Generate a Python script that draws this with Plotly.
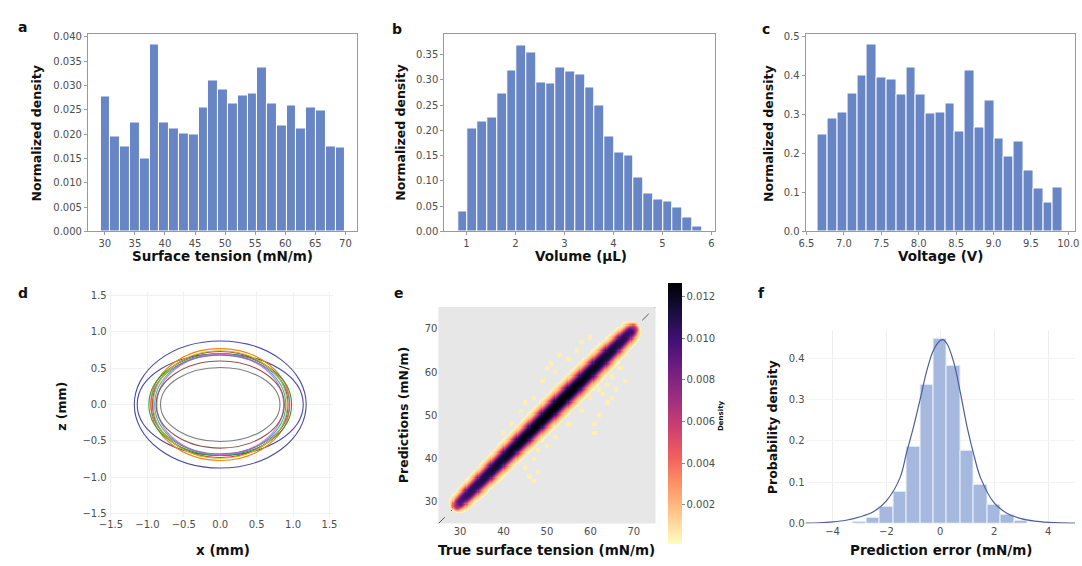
import numpy as np
import plotly.graph_objects as go

# ---------------- data ----------------
# (a) surface tension histogram
tension_edges = np.linspace(29.3, 70.0, 26)
tension_density = [0.0278, 0.0196, 0.0175, 0.0223, 0.0150, 0.0385, 0.0224, 0.0211,
                   0.0201, 0.0200, 0.0255, 0.0311, 0.0291, 0.0263, 0.0280, 0.0284,
                   0.0338, 0.0263, 0.0217, 0.0258, 0.0211, 0.0254, 0.0248, 0.0175,
                   0.0172]

# (b) volume histogram
volume_edges = np.linspace(0.83, 5.81, 26)
volume_density = [0.039, 0.203, 0.218, 0.225, 0.274, 0.318, 0.368, 0.355, 0.295,
                  0.293, 0.324, 0.317, 0.311, 0.284, 0.249, 0.187, 0.156, 0.150,
                  0.106, 0.074, 0.064, 0.059, 0.048, 0.027, 0.009]

# (c) voltage histogram
voltage_edges = np.linspace(6.654, 9.925, 26)
voltage_density = [0.249, 0.289, 0.305, 0.354, 0.400, 0.481, 0.396, 0.390, 0.351,
                   0.420, 0.351, 0.302, 0.305, 0.328, 0.257, 0.413, 0.268, 0.337,
                   0.239, 0.193, 0.232, 0.156, 0.109, 0.0745, 0.1125]

# (d) drop contours: semi-axes (mm) and line colours
contour_a = [1.18, 1.14, 0.955, 0.93, 0.98, 0.90, 0.87, 0.95, 0.92, 0.88, 0.82]
contour_b = [0.875, 0.70, 0.77, 0.73, 0.70, 0.69, 0.69, 0.68, 0.74, 0.60, 0.51]
contour_colors = ["#4b4ba6", "#4b4ba6", "#ff7f0e", "#d62728", "#2ca02c", "#17becf",
                  "#e377c2", "#9467bd", "#bcbd22", "#8c564b", "#7f7f7f"]

# (e) prediction density: ridge along the diagonal and its cross profile
ridge_pos = [28.2, 28.9, 29.8, 32.0, 36.0, 40.0, 45.0, 50.0, 55.0, 60.0, 65.0, 68.0,
             69.5, 70.3, 71.0]
ridge_peak = [0.0, 0.0065, 0.0095, 0.0106, 0.0113, 0.0119, 0.0124, 0.0126, 0.0126,
              0.0122, 0.0115, 0.0108, 0.0100, 0.0065, 0.0]
ridge_width = [0.45, 0.65, 0.80, 0.88, 0.95, 1.00, 1.05, 1.10, 1.12, 1.08, 1.00, 0.92,
               0.85, 0.70, 0.45]
band_offset = [0.0, 0.9, 1.45, 2.0, 2.5, 3.0, 3.5, 4.1, 4.6]
band_profile = [1.0, 0.95, 0.80, 0.55, 0.34, 0.19, 0.10, 0.045, 0.0]
# isolated low-density cells away from the ridge (true, predicted)
outlier_true = [40, 42, 44, 45, 47, 49, 50, 51, 52, 53, 55, 57, 58, 60,
                45, 46, 47, 47, 48, 48, 50, 52, 55, 58, 60, 61, 61, 62,
                63, 64, 65, 65, 66, 67, 68, 62, 64]
outlier_pred = [46, 48, 51, 53, 54, 58, 61, 62, 60, 64, 63, 65, 67, 68,
                38, 36, 40, 35, 42, 37, 43, 45, 48, 51, 54, 46, 48, 50,
                55, 57, 54, 59, 56, 61, 58, 56, 53]
outlier_level = 0.0005

# (f) prediction error histogram and KDE
err_centers = [-3.0, -2.5, -2.0, -1.5, -1.0, -0.5, 0.0, 0.5, 1.0, 1.5, 2.0, 2.5, 3.0]
err_density = [0.005, 0.014, 0.042, 0.078, 0.186, 0.337, 0.447, 0.381, 0.176,
               0.095, 0.045, 0.022, 0.006]
kde_x = [-5, -4.5, -4, -3.5, -3, -2.5, -2, -1.5, -1.25, -1, -0.75, -0.5, -0.25, 0,
         0.1, 0.25, 0.5, 0.75, 1, 1.25, 1.5, 2, 2.5, 3, 3.5, 4, 4.5, 5]
kde_y = [0.001, 0.002, 0.004, 0.008, 0.016, 0.028, 0.055, 0.11, 0.172, 0.232,
         0.30, 0.37, 0.42, 0.443, 0.445, 0.435, 0.39, 0.315, 0.232, 0.165, 0.11,
         0.05, 0.024, 0.012, 0.006, 0.003, 0.0015, 0.001]

# ---------------- styling ----------------
W, H = 1082, 566
FONT = "DejaVu Sans"
TICK_COLOR = "#4d4d4d"
BAR_COLOR = "#6886c5"


def dom_x(p0, p1):
    return [p0 / W, p1 / W]


def dom_y(p_top, p_bottom):
    return [1 - p_bottom / H, 1 - p_top / H]


fig = go.Figure()

# histogram panels a-c
for k, (edges, dens) in enumerate([(tension_edges, tension_density),
                                   (volume_edges, volume_density),
                                   (voltage_edges, voltage_density)], start=1):
    edges = np.asarray(edges)
    centers = (edges[:-1] + edges[1:]) / 2
    widths = np.diff(edges)
    fig.add_trace(go.Bar(x=centers, y=dens, width=widths,
                         marker=dict(color=BAR_COLOR, line=dict(color="white", width=1)),
                         xaxis=f"x{k if k > 1 else ''}", yaxis=f"y{k if k > 1 else ''}",
                         showlegend=False, hoverinfo="skip"))

# panel d: invisible anchor trace so the axes render
fig.add_trace(go.Scatter(x=[0], y=[0], mode="markers", marker=dict(opacity=0),
                         xaxis="x4", yaxis="y4", showlegend=False, hoverinfo="skip"))

# panel e: density grid
cell = 0.25
grid = np.arange(25 + cell / 2, 75, cell)
T, P = np.meshgrid(grid, grid)
S = (T + P) / 2            # position along the diagonal
R = np.abs(P - T)          # distance off the diagonal (vertical units)
peak = np.interp(S, ridge_pos, ridge_peak, left=0, right=0)
wscale = np.interp(S, ridge_pos, ridge_width)
prof = np.interp(R / wscale, band_offset, band_profile, right=0)
Z = peak * prof
Z[Z < 1.5e-4] = np.nan
for t, p in zip(outlier_true, outlier_pred):
    blob = (np.abs(T - t) < 0.5) & (np.abs(P - p) < 0.5) & np.isnan(Z)
    Z[blob] = outlier_level

fig.add_trace(go.Heatmap(
    x=grid, y=grid, z=Z, xaxis="x5", yaxis="y5",
    colorscale="Magma", reversescale=True, zmin=0.0001, zmax=0.01263,
    hoverinfo="skip",
    colorbar=dict(thickness=14, len=265 / H, lenmode="fraction",
                  x=668 / W, xanchor="left", y=1 - 417.5 / H, yanchor="middle",
                  xpad=0, ypad=0, outlinewidth=0,
                  ticks="outside", ticklen=3, tickcolor="#888",
                  tickvals=[0.002, 0.004, 0.006, 0.008, 0.010, 0.012],
                  tickformat=".3f",
                  tickfont=dict(family=FONT, size=10, color=TICK_COLOR))))

# panel f
fig.add_trace(go.Bar(x=err_centers, y=err_density, width=0.5,
                     marker=dict(color="#a5b8de", line=dict(color="#eef2fa", width=1)),
                     xaxis="x6", yaxis="y6", showlegend=False, hoverinfo="skip"))
fig.add_trace(go.Scatter(x=kde_x, y=kde_y, mode="lines", line=dict(color="#4d5f96", width=1.2,
                         shape="spline"),
                         xaxis="x6", yaxis="y6", showlegend=False, hoverinfo="skip"))

# ---------------- axes ----------------
tickfont = dict(family=FONT, size=10, color=TICK_COLOR)
boxed = dict(showline=True, mirror=True, linecolor="#9a9a9a", linewidth=1,
             ticks="outside", ticklen=3, tickcolor="#9a9a9a", showgrid=False,
             zeroline=False, tickfont=tickfont)
top_row = dom_y(32, 232)

fig.update_layout(
    xaxis=dict(domain=dom_x(80, 353), range=[27.2, 72.0], anchor="y",
               tickvals=[30, 35, 40, 45, 50, 55, 60, 65, 70], **boxed),
    yaxis=dict(domain=top_row, range=[0, 0.0405], anchor="x",
               tickvals=[0, 0.005, 0.01, 0.015, 0.02, 0.025, 0.03, 0.035, 0.04],
               tickformat=".3f", **boxed),
    xaxis2=dict(domain=dom_x(441, 715), range=[0.55, 6.07], anchor="y2",
                tickvals=[1, 2, 3, 4, 5, 6], **boxed),
    yaxis2=dict(domain=top_row, range=[0, 0.39], anchor="x2",
                tickvals=[0, 0.05, 0.1, 0.15, 0.2, 0.25, 0.3, 0.35],
                tickformat=".2f", **boxed),
    xaxis3=dict(domain=dom_x(807, 1080), range=[6.487, 10.09], anchor="y3",
                tickvals=[6.5, 7.0, 7.5, 8.0, 8.5, 9.0, 9.5, 10.0],
                tickformat=".1f", **boxed),
    yaxis3=dict(domain=top_row, range=[0, 0.506], anchor="x3",
                tickvals=[0, 0.1, 0.2, 0.3, 0.4, 0.5], tickformat=".1f", **boxed),
    xaxis4=dict(domain=dom_x(100, 328), range=[-1.545, 1.545], anchor="y4",
                tickvals=[-1.5, -1.0, -0.5, 0, 0.5, 1.0, 1.5], tickformat=".1f",
                showgrid=True, gridcolor="#f1f1f1", zeroline=False, showline=False,
                tickfont=tickfont),
    yaxis4=dict(domain=dom_y(294, 522), range=[-1.545, 1.545], anchor="x4",
                tickvals=[-1.5, -1.0, -0.5, 0, 0.5, 1.0, 1.5], tickformat=".1f",
                showgrid=True, gridcolor="#f1f1f1", zeroline=False, showline=False,
                tickfont=tickfont),
    xaxis5=dict(domain=dom_x(435, 655), range=[25, 75], anchor="y5",
                tickvals=[30, 40, 50, 60, 70], showgrid=False, zeroline=False,
                showline=False, tickfont=tickfont),
    yaxis5=dict(domain=dom_y(309, 529), range=[25, 75], anchor="x5",
                tickvals=[30, 40, 50, 60, 70], showgrid=False, zeroline=False,
                showline=False, tickfont=tickfont),
    xaxis6=dict(domain=dom_x(807, 1080), range=[-5, 5], anchor="y6",
                tickvals=[-4, -2, 0, 2, 4], showgrid=True, gridcolor="#eeeeee",
                zeroline=False, showline=False, tickfont=tickfont),
    yaxis6=dict(domain=dom_y(332, 529), range=[0, 0.469], anchor="x6",
                tickvals=[0, 0.1, 0.2, 0.3, 0.4], tickformat=".1f",
                showgrid=True, gridcolor="#f3f3f3", zeroline=False, showline=False,
                tickfont=tickfont),
)

# panel e background and identity line sit below the density grid
shapes = [dict(type="rect", xref="x5 domain", yref="y5 domain", x0=0, x1=1, y0=0, y1=1,
               fillcolor="#e7e7e7", line=dict(width=0), layer="below"),
          dict(type="line", xref="x5", yref="y5", x0=25, y0=25, x1=75, y1=75,
               line=dict(color="#555555", width=1, dash="dash"), layer="below")]
# drop contour outlines drawn as ellipses in data coordinates
for a, b, c in zip(contour_a, contour_b, contour_colors):
    shapes.append(dict(type="circle", xref="x4", yref="y4", x0=-a, x1=a, y0=-b, y1=b,
                       line=dict(color=c, width=1.1), layer="above"))
fig.update_layout(shapes=shapes)

# ---------------- text ----------------
annotations = []


def label(text, px, py, size, angle=0, bold=True):
    annotations.append(dict(text=f"<b>{text}</b>" if bold else text,
                            x=px / W, y=1 - py / H, xref="paper", yref="paper",
                            showarrow=False, textangle=angle,
                            xanchor="center", yanchor="middle",
                            font=dict(family=FONT, size=size, color="#111111")))


for letter, px, py in [("a", 14, 24), ("b", 393, 26), ("c", 767, 26),
                       ("d", 14, 295), ("e", 395, 295), ("f", 762, 295)]:
    label(letter, px, py, 14)

label("Surface tension (mN/m)", 216, 257, 13.5)
label("Volume (μL)", 579, 257, 13.5)
label("Voltage (V)", 944, 257, 13.5)
label("x (mm)", 217, 556, 13.5)
label("True surface tension (mN/m)", 545, 556, 13.5)
label("Prediction error (mN/m)", 944, 556, 13.5)

label("Normalized density", 28, 133, 12.5, -90)
label("Normalized density", 397, 132, 12.5, -90)
label("Normalized density", 770, 133, 12.5, -90)
label("z (mm)", 53, 410, 12.5, -90)
label("Predictions (mN/m)", 400, 418, 12.5, -90)
label("Probability density", 773, 431, 12.5, -90)
label("Density", 722, 420, 7, -90)

fig.update_layout(annotations=annotations, width=W, height=H,
                  margin=dict(l=0, r=0, t=0, b=0), paper_bgcolor="white",
                  plot_bgcolor="white", bargap=0, showlegend=False,
                  font=dict(family=FONT))

fig.write_html("out.html")
